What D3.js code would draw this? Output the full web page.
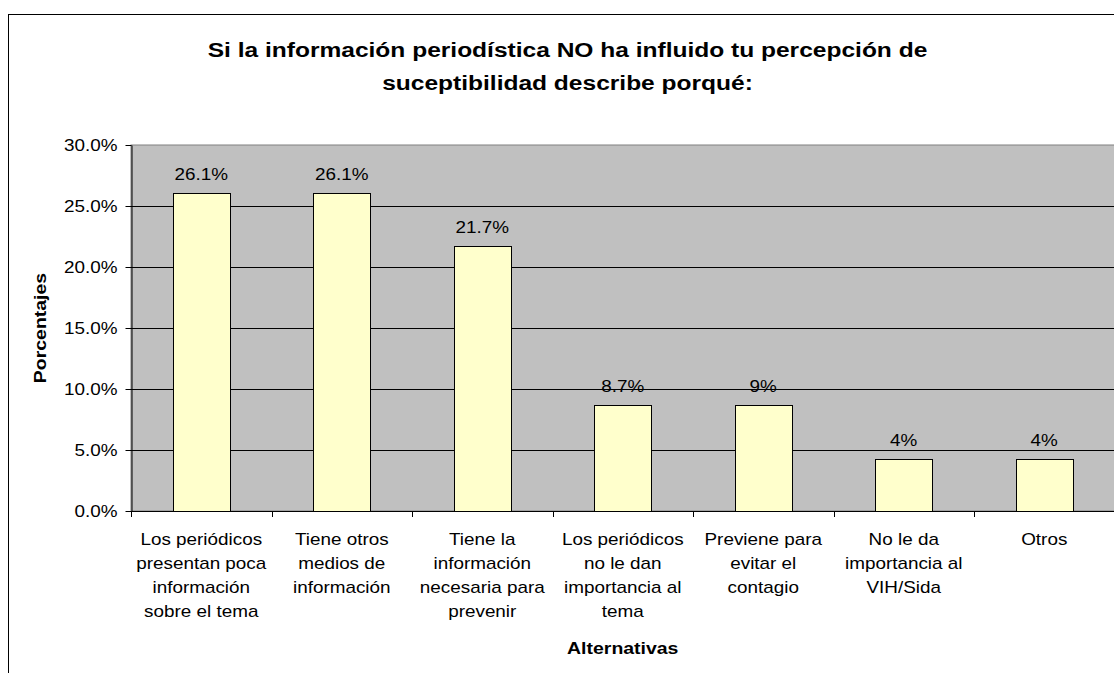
<!DOCTYPE html>
<html>
<head>
<meta charset="utf-8">
<script src="https://cdn.jsdelivr.net/npm/d3@7"></script>
<style>
  html, body { margin: 0; padding: 0; background: #fff; }
  svg { display: block; font-family: "Liberation Sans", Arial, sans-serif; }
</style>
</head>
<body>
<svg id="chart" width="1114" height="673"></svg>
<script>
// Categories (each entry already split into the lines shown under the axis)
const categories = [
  ["Los periódicos", "presentan poca", "información", "sobre el tema"],
  ["Tiene otros", "medios de", "información"],
  ["Tiene la", "información", "necesaria para", "prevenir"],
  ["Los periódicos", "no le dan", "importancia al", "tema"],
  ["Previene para", "evitar el", "contagio"],
  ["No le da", "importancia al", "VIH/Sida"],
  ["Otros"]
];
// Percentages per category
const values = [26.1, 26.1, 21.7, 8.7, 8.7, 4.3, 4.3];
// Number of decimals used when printing each value label
const labelDecimals = [1, 1, 1, 1, 0, 0, 0];
// Y axis ticks
const yTicks = [0, 5, 10, 15, 20, 25, 30];
const titleLines = [
  "Si la información periodística NO ha influido tu percepción de",
  "suceptibilidad describe porqué:"
];
const yTitle = "Porcentajes";
const xTitle = "Alternativas";

const SX = 1.18; // horizontal widening of all glyphs
const svg = d3.select("#chart");

const plot = { left: 131, right: 1114.5, top: 145, bottom: 511 };

const x = d3.scaleBand()
  .domain(d3.range(categories.length))
  .range([plot.left, plot.right])
  .paddingInner(0).paddingOuter(0);

const y = d3.scaleLinear().domain([0, 30]).range([plot.bottom, plot.top]);

// Chart frame
svg.append("rect")
  .attr("x", 8.5).attr("y", 14.5)
  .attr("width", 1200).attr("height", 800)
  .attr("fill", "#fff").attr("stroke", "#000").attr("stroke-width", 1);

// Plot background
svg.append("rect")
  .attr("x", plot.left).attr("y", y(30))
  .attr("width", plot.right - plot.left).attr("height", y(0) - y(30))
  .attr("fill", "#C0C0C0").attr("stroke", "#808080").attr("stroke-width", 1);

// Horizontal gridlines
svg.append("g").selectAll("line")
  .data(yTicks.filter(d => d > 0 && d < 30))
  .join("line")
  .attr("x1", plot.left).attr("x2", plot.right)
  .attr("y1", d => Math.round(y(d)) + 0.5).attr("y2", d => Math.round(y(d)) + 0.5)
  .attr("stroke", "#000").attr("stroke-width", 1);

// Bars
const barW = x.bandwidth() * 0.405;
svg.append("g").selectAll("rect")
  .data(values)
  .join("rect")
  .attr("x", (d, i) => Math.round(x(i) + (x.bandwidth() - barW) / 2) + 0.5)
  .attr("y", d => Math.round(y(d)) + 0.5)
  .attr("width", Math.round(barW))
  .attr("height", d => Math.round(y(0)) - Math.round(y(d)))
  .attr("fill", "#FFFFCC").attr("stroke", "#000").attr("stroke-width", 1);

// Value labels
svg.append("g").selectAll("text")
  .data(values)
  .join("text")
  .attr("transform", (d, i) => `translate(${x(i) + x.bandwidth() / 2},${y(d) - 13}) scale(${SX},1)`)
  .attr("text-anchor", "middle")
  .attr("font-size", 16)
  .attr("fill", "#000")
  .text((d, i) => d.toFixed(labelDecimals[i]) + "%");

// Y axis
const yAxis = svg.append("g")
  .attr("transform", `translate(${plot.left + 0.5},0)`)
  .call(d3.axisLeft(y).tickValues(yTicks).tickSize(6).tickSizeOuter(0)
    .tickFormat(d => d.toFixed(1) + "%"));
yAxis.select(".domain").attr("stroke", "#000");
yAxis.selectAll(".tick line").attr("stroke", "#000");
yAxis.selectAll(".tick text")
  .attr("x", null).attr("dy", "0.35em")
  .attr("transform", `translate(-14,0) scale(${SX},1)`)
  .attr("font-size", 16).attr("font-family", "Liberation Sans, Arial, sans-serif")
  .attr("fill", "#000");

// X axis baseline and category boundary ticks
svg.append("line")
  .attr("x1", plot.left).attr("x2", plot.right)
  .attr("y1", plot.bottom + 0.5).attr("y2", plot.bottom + 0.5)
  .attr("stroke", "#000");
svg.append("g").selectAll("line")
  .data(d3.range(categories.length + 1).map(i => plot.left + i * x.step()))
  .join("line")
  .attr("x1", d => Math.round(d) + 0.5).attr("x2", d => Math.round(d) + 0.5)
  .attr("y1", plot.bottom).attr("y2", plot.bottom + 6)
  .attr("stroke", "#000");

// Category labels
const catG = svg.append("g").selectAll("text")
  .data(categories)
  .join("text")
  .attr("transform", (d, i) => `translate(${x(i) + x.bandwidth() / 2},545) scale(${SX},1)`)
  .attr("text-anchor", "middle")
  .attr("font-size", 16)
  .attr("fill", "#000");
catG.selectAll("tspan")
  .data(d => d)
  .join("tspan")
  .attr("x", 0)
  .attr("y", (d, j) => j * 24)
  .text(d => d);

// Title
svg.append("g").selectAll("text")
  .data(titleLines)
  .join("text")
  .attr("transform", (d, i) => `translate(567.5,${57 + i * 33}) scale(${SX},1)`)
  .attr("text-anchor", "middle")
  .attr("font-size", 20.8)
  .attr("font-weight", "bold")
  .attr("fill", "#000")
  .text(d => d);

// Axis titles
svg.append("text")
  .attr("transform", `translate(46,${(plot.top + plot.bottom) / 2}) rotate(-90) scale(${SX},1)`)
  .attr("text-anchor", "middle")
  .attr("font-size", 16.5)
  .attr("font-weight", "bold")
  .text(yTitle);

svg.append("text")
  .attr("transform", `translate(${(plot.left + plot.right) / 2},654) scale(${SX},1)`)
  .attr("text-anchor", "middle")
  .attr("font-size", 16.5)
  .attr("font-weight", "bold")
  .text(xTitle);
</script>
</body>
</html>
